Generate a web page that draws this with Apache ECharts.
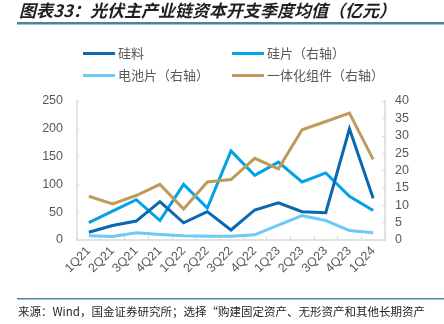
<!DOCTYPE html>
<html>
<head>
<meta charset="utf-8">
<script src="https://cdn.jsdelivr.net/npm/echarts@6/dist/echarts.min.js"></script>
<style>
  html, body { margin: 0; padding: 0; background: #fff; }
  #chart { width: 444px; height: 324px; }
</style>
</head>
<body>
<div id="chart"></div>
<script>
// Quarterly average capex across the PV main industry chain (100M CNY)
var quarters = ['1Q21','2Q21','3Q21','4Q21','1Q22','2Q22','3Q22','4Q22','1Q23','2Q23','3Q23','4Q23','1Q24'];
var polysilicon = [14, 26, 34, 69, 31, 51, 18, 54, 67, 51, 49, 200, 75];          // left axis
var wafer       = [5.0, 8.3, 11.6, 5.6, 16.0, 9.2, 25.6, 18.6, 22.4, 16.7, 19.3, 12.6, 8.5]; // right axis
var cell        = [1.2, 1.0, 2.1, 1.6, 1.2, 1.1, 1.1, 1.5, 4.3, 7.0, 5.6, 2.7, 2.1];  // right axis
var module      = [12.6, 10.4, 12.8, 16.0, 8.9, 16.7, 17.4, 23.5, 20.5, 31.7, 34.1, 36.5, 23.2]; // right axis

var seriesNames = ['硅料', '硅片（右轴）', '电池片（右轴）', '一体化组件（右轴）'];
var seriesColors = ['#0a67b2', '#00a2e8', '#6dcaf6', '#bf9b5b'];

var FONT = '"Liberation Sans", "Noto Sans CJK SC", sans-serif';
var CJK = '"Noto Sans CJK SC", sans-serif';

var chart = echarts.init(document.getElementById('chart'), null, { renderer: 'canvas' });

function legendAt(name, left, top) {
  return {
    data: [name], left: left, top: top, orient: 'horizontal',
    icon: 'rect', itemWidth: 32, itemHeight: 3, padding: 0,
    textStyle: { fontFamily: CJK, fontSize: 13, color: '#595959', padding: [0, 0, 0, -2] },
    selectedMode: false
  };
}

function lineSeries(name, data, axisIdx, color, z) {
  return {
    name: name, type: 'line', data: data, yAxisIndex: axisIdx,
    symbol: 'none', smooth: false, z: z,
    lineStyle: { width: 3, color: color, join: 'miter' },
    itemStyle: { color: color }
  };
}

var axisGray = '#d9d9d9';

chart.setOption({
  animation: false,
  backgroundColor: '#fff',
  grid: { left: 77, right: 59, top: 101, bottom: 84 },
  legend: [
    legendAt(seriesNames[0], 83, 47),
    legendAt(seriesNames[1], 232, 47),
    legendAt(seriesNames[2], 83, 69),
    legendAt(seriesNames[3], 232, 69)
  ],
  xAxis: {
    type: 'category', data: quarters, boundaryGap: true,
    axisLine: { lineStyle: { color: axisGray, width: 1.5 } },
    axisTick: { show: true, inside: true, length: 4, lineStyle: { color: axisGray } },
    axisLabel: { rotate: 45, interval: 0, margin: 9, fontFamily: FONT, fontSize: 12.5, color: '#595959' },
    splitLine: { show: false }
  },
  yAxis: [
    {
      type: 'value', min: 0, max: 250, interval: 50, position: 'left',
      axisLine: { show: true, lineStyle: { color: axisGray, width: 1.5 } },
      axisTick: { show: true, inside: true, length: 2, lineStyle: { color: axisGray } },
      axisLabel: { margin: 14, fontFamily: FONT, fontSize: 12.5, color: '#595959' },
      splitLine: { show: false }
    },
    {
      type: 'value', min: 0, max: 40, interval: 5, position: 'right',
      axisLine: { show: true, lineStyle: { color: axisGray, width: 1.5 } },
      axisTick: { show: true, inside: true, length: 3, lineStyle: { color: axisGray } },
      axisLabel: { margin: 10, fontFamily: FONT, fontSize: 12.5, color: '#595959' },
      splitLine: { show: false }
    }
  ],
  series: [
    lineSeries(seriesNames[1], wafer, 1, seriesColors[1], 2),
    lineSeries(seriesNames[2], cell, 1, seriesColors[2], 2),
    lineSeries(seriesNames[3], module, 1, seriesColors[3], 3),
    lineSeries(seriesNames[0], polysilicon, 0, seriesColors[0], 4)
  ],
  graphic: [
    {
      type: 'text', left: 19, top: 2,
      style: {
        text: '图表33：光伏主产业链资本开支季度均值（亿元）',
        font: 'italic bold 17px "Noto Sans CJK SC", sans-serif',
        fill: '#1f1f1f'
      }
    },
    {
      type: 'rect', shape: { x: 17, y: 22, width: 427, height: 2.5 },
      style: { fill: '#4f81a3' }
    },
    {
      type: 'rect', shape: { x: 17, y: 298, width: 427, height: 1.5 },
      style: { fill: '#4f81a3' }
    },
    {
      type: 'text', left: 18, top: 306,
      style: {
        text: '来源：Wind，国金证券研究所；选择“购建固定资产、无形资产和其他长期资产',
        font: '11.5px "Noto Sans CJK SC", sans-serif',
        fill: '#262626'
      }
    }
  ]
});
</script>
</body>
</html>
